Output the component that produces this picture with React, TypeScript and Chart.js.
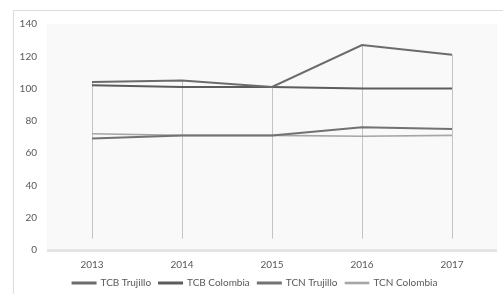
import React, { useEffect, useRef } from "react";
import { Chart, registerables } from "chart.js";

Chart.register(...registerables);

const years = ["2013", "2014", "2015", "2016", "2017"];
const tcbTrujillo = [104, 105, 101, 127, 121];
const tcbColombia = [102, 101, 101, 100, 100];
const tcnTrujillo = [69, 71, 71, 76, 75];
const tcnColombia = [72, 71, 71, 70.5, 71];
const seriesNames = ["TCB Trujillo", "TCB Colombia", "TCN Trujillo", "TCN Colombia"];
const seriesColors = ["#6b6b6b", "#5c5c5c", "#727272", "#a6a6a6"];

const FONT = "Lato, 'Liberation Sans', sans-serif";

const areaPlugin = {
  id: "areaShade",
  beforeUpdate(chart: any) {
    const lg = chart.legend;
    if (lg && !lg.__patched) {
      lg.__patched = true;
      const orig = lg.fit.bind(lg);
      lg.fit = function () {
        orig();
        this.height = 24;
      };
    }
  },
  beforeDraw(chart: any) {
    const { ctx, chartArea } = chart;
    ctx.save();
    ctx.fillStyle = "#f9f9f9";
    ctx.fillRect(chartArea.left, chartArea.top, chartArea.right - chartArea.left, chartArea.bottom - chartArea.top);
    ctx.restore();
  },
  beforeDatasetsDraw(chart: any) {
    const { ctx, scales } = chart;
    const x = scales.x;
    const y = scales.y;
    ctx.save();
    ctx.strokeStyle = "#c4c4c4";
    ctx.lineWidth = 1;
    const n = chart.data.labels.length;
    for (let i = 0; i < n; i++) {
      let top = -Infinity;
      chart.data.datasets.forEach((d: any) => {
        if (d.data[i] > top) top = d.data[i];
      });
      const px = Math.round(x.getPixelForValue(i)) + 0.5;
      ctx.beginPath();
      ctx.moveTo(px, y.getPixelForValue(top));
      ctx.lineTo(px, y.getPixelForValue(7));
      ctx.stroke();
    }
    ctx.fillStyle = "#e4e4e4";
    const by = y.getPixelForValue(0);
    ctx.fillRect(chart.chartArea.left, by - 1, chart.chartArea.right - chart.chartArea.left, 3);
    ctx.restore();
  },
};

export default function App() {
  const ref = useRef<HTMLCanvasElement>(null);
  useEffect(() => {
    document.body.style.margin = "0";
    document.body.style.overflow = "hidden";
    const datasets = [tcbTrujillo, tcbColombia, tcnTrujillo, tcnColombia].map((d, i) => ({
      label: seriesNames[i],
      data: d,
      borderColor: seriesColors[i],
      backgroundColor: seriesColors[i],
      borderWidth: i === 3 ? 1.6 : 2,
      pointRadius: 0,
      tension: 0,
      order: i === 3 ? 5 : i,
    }));
    const chart = new Chart(ref.current!, {
      type: "line",
      data: { labels: years, datasets },
      plugins: [areaPlugin],
      options: {
        animation: false,
        responsive: false,
        maintainAspectRatio: false,
        layout: { padding: { left: 13, right: 6, top: 24, bottom: 0 } },
        plugins: {
          tooltip: { enabled: false },
          legend: {
            position: "bottom",
            labels: {
              boxWidth: 23,
              boxHeight: 1,
              padding: 8,
              color: "#595959",
              font: { family: FONT, size: 10 },
            },
          },
        },
        scales: {
          x: {
            offset: true,
            afterFit: (s: any) => {
              s.height = 20;
            },
            grid: { display: false, drawTicks: false },
            border: { display: false },
            ticks: { color: "#595959", padding: 9, font: { family: FONT, size: 10 } },
          },
          y: {
            min: 0,
            max: 140,
            afterFit: (s: any) => {
              s.width = 34;
            },
            grid: { display: false, drawTicks: false },
            border: { display: false },
            ticks: { stepSize: 20, color: "#595959", padding: 10, font: { family: FONT, size: 10 } },
          },
        },
      },
    });
    return () => chart.destroy();
  }, []);
  return (
    <div style={{ position: "relative", width: 503, height: 294, overflow: "hidden", background: "#fff" }}>
      <div
        style={{
          position: "absolute",
          left: 13,
          top: 10,
          width: 520,
          height: 320,
          border: "1px solid #dcdcdc",
          boxSizing: "border-box",
        }}
      />
      <canvas ref={ref} width={503} height={294} style={{ position: "absolute", left: 0, top: 0 }} />
    </div>
  );
}
